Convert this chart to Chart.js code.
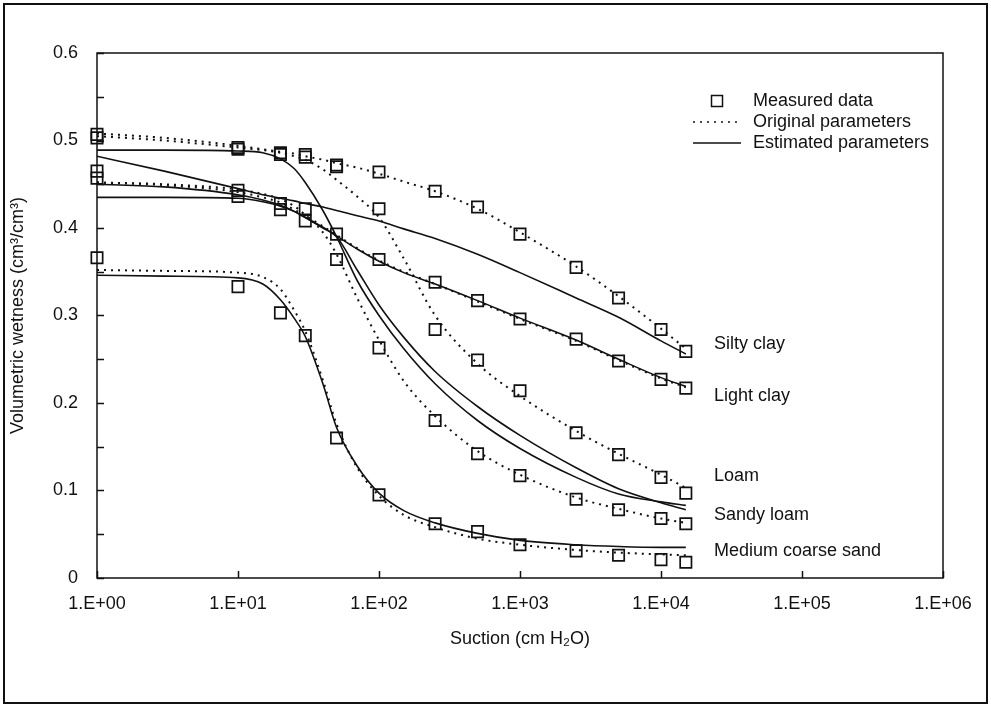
<!DOCTYPE html>
<html>
<head>
<meta charset="utf-8">
<script src="https://cdn.jsdelivr.net/npm/chart.js@4.4.1/dist/chart.umd.min.js"></script>
<style>
  html, body { margin: 0; padding: 0; background: #fff; }
  canvas { display: block; }
</style>
</head>
<body>
<canvas id="retention" width="991" height="706"></canvas>
<script>
// Suction steps of the measured points (cm H2O)
const suction = [1, 10, 20, 30, 50, 100, 250, 500, 1000, 2500, 5000, 10000, 15000];

// Measured volumetric wetness (cm3/cm3)
const siltyClayMeasured = [0.507, 0.492, 0.486, 0.484, 0.472, 0.464, 0.442, 0.424, 0.393, 0.355, 0.320, 0.284, 0.259];
const lightClayMeasured = [0.457, 0.436, 0.421, 0.408, 0.393, 0.364, 0.338, 0.317, 0.296, 0.273, 0.248, 0.227, 0.217];
const loamMeasured = [0.503, 0.490, 0.484, 0.481, 0.470, 0.422, 0.284, 0.249, 0.214, 0.166, 0.141, 0.115, 0.097];
const sandyLoamMeasured = [0.465, 0.443, 0.428, 0.422, 0.364, 0.263, 0.180, 0.142, 0.117, 0.090, 0.078, 0.068, 0.062];
const sandMeasured = [0.366, 0.333, 0.303, 0.277, 0.160, 0.095, 0.062, 0.053, 0.038, 0.031, 0.026, 0.021, 0.018];

// Suction points of the retention curves
const curveSuction = [1, 3, 10, 15, 20, 25, 30, 40, 50, 70, 100, 150, 250, 500, 1000, 2500, 5000, 10000, 15000];

// Curves with the original parameters (dotted)
const siltyClayOriginal = [0.508, 0.503, 0.494, 0.490, 0.487, 0.485, 0.482, 0.478, 0.474, 0.469, 0.462, 0.453, 0.442, 0.422, 0.395, 0.356, 0.322, 0.285, 0.262];
const lightClayOriginal = [0.452, 0.449, 0.441, 0.435, 0.429, 0.421, 0.414, 0.402, 0.392, 0.377, 0.363, 0.350, 0.336, 0.316, 0.296, 0.271, 0.249, 0.228, 0.218];
const loamOriginal = [0.505, 0.500, 0.492, 0.489, 0.486, 0.482, 0.478, 0.467, 0.455, 0.436, 0.412, 0.365, 0.300, 0.245, 0.208, 0.168, 0.142, 0.118, 0.103];
const sandyLoamOriginal = [0.452, 0.450, 0.444, 0.439, 0.433, 0.425, 0.415, 0.395, 0.370, 0.320, 0.272, 0.225, 0.185, 0.145, 0.118, 0.092, 0.079, 0.068, 0.063];
const sandOriginal = [0.352, 0.351, 0.349, 0.344, 0.330, 0.306, 0.282, 0.226, 0.176, 0.126, 0.094, 0.072, 0.058, 0.045, 0.038, 0.032, 0.029, 0.027, 0.026];

// Curves with the estimated parameters (solid)
const siltyClayEstimated = [0.482, 0.465, 0.445, 0.438, 0.434, 0.431, 0.428, 0.424, 0.420, 0.414, 0.408, 0.399, 0.388, 0.370, 0.349, 0.320, 0.298, 0.271, 0.256];
const lightClayEstimated = [0.450, 0.447, 0.438, 0.432, 0.426, 0.419, 0.412, 0.401, 0.391, 0.376, 0.362, 0.349, 0.336, 0.317, 0.297, 0.272, 0.250, 0.229, 0.219];
const loamEstimated = [0.489, 0.489, 0.488, 0.486, 0.479, 0.468, 0.452, 0.420, 0.390, 0.340, 0.300, 0.262, 0.222, 0.180, 0.148, 0.115, 0.096, 0.087, 0.083];
const sandyLoamEstimated = [0.435, 0.435, 0.434, 0.430, 0.425, 0.419, 0.412, 0.400, 0.390, 0.352, 0.312, 0.275, 0.236, 0.196, 0.163, 0.126, 0.102, 0.086, 0.078];
const sandEstimated = [0.346, 0.345, 0.343, 0.336, 0.318, 0.297, 0.276, 0.222, 0.172, 0.128, 0.097, 0.077, 0.063, 0.051, 0.043, 0.038, 0.036, 0.035, 0.035];

// Axis ticks
const xTickValues = [1, 10, 100, 1000, 10000, 100000, 1000000];
const xTickLabels = ['1.E+00', '1.E+01', '1.E+02', '1.E+03', '1.E+04', '1.E+05', '1.E+06'];
const yTickLabels = ['0', '0.1', '0.2', '0.3', '0.4', '0.5', '0.6'];

// Soil names written at the end of the curves
const soilNames = ['Silty clay', 'Light clay', 'Loam', 'Sandy loam', 'Medium coarse sand'];
const soilNameLevels = [0.267, 0.208, 0.117, 0.072, 0.031];

const INK = '#111';
const FONT = '"Liberation Sans", Arial, sans-serif';

const pairs = (xs, ys) => xs.map((v, i) => ({ x: v, y: ys[i] }));

function measured(label, values) {
  return {
    label: label,
    data: pairs(suction, values),
    showLine: false,
    pointStyle: 'rect',
    pointRadius: 8,
    pointHoverRadius: 8,
    pointBorderWidth: 1.7,
    pointBorderColor: INK,
    pointBackgroundColor: 'rgba(0,0,0,0)',
    clip: false
  };
}

function curve(label, values, dotted) {
  return {
    label: label,
    data: pairs(curveSuction, values),
    showLine: true,
    borderColor: INK,
    borderWidth: dotted ? 2 : 1.6,
    borderDash: dotted ? [2, 5] : [],
    pointRadius: 0,
    cubicInterpolationMode: 'monotone',
    fill: false
  };
}

// Plot frame, inward tick marks, soil names and the legend box
const decorations = {
  id: 'decorations',
  afterDraw(chart) {
    const { ctx, chartArea: a, scales: { x, y } } = chart;
    ctx.save();
    ctx.strokeStyle = INK;
    ctx.lineWidth = 1.5;
    ctx.strokeRect(a.left, a.top, a.right - a.left, a.bottom - a.top);

    ctx.beginPath();
    for (let k = 0; k <= 12; k++) {
      const py = Math.round(y.getPixelForValue(k * 0.05)) + 0.5;
      ctx.moveTo(a.left, py);
      ctx.lineTo(a.left + 7, py);
    }
    xTickValues.forEach(v => {
      const px = Math.round(x.getPixelForValue(v)) + 0.5;
      ctx.moveTo(px, a.bottom);
      ctx.lineTo(px, a.bottom - 7);
    });
    ctx.stroke();

    // outer figure border
    ctx.lineWidth = 2;
    ctx.strokeRect(4, 4, chart.width - 8, chart.height - 7);

    ctx.fillStyle = INK;
    ctx.font = '18px ' + FONT;
    ctx.textBaseline = 'middle';
    ctx.textAlign = 'left';
    soilNames.forEach((name, i) => {
      ctx.fillText(name, 714, y.getPixelForValue(soilNameLevels[i]));
    });

    // legend
    const lx = 693, tx = 753;
    ctx.lineWidth = 1.5;
    ctx.strokeRect(711.5, 95.5, 11, 11);
    ctx.fillText('Measured data', tx, 101);

    ctx.lineWidth = 1.6;
    ctx.setLineDash([2, 5]);
    ctx.beginPath();
    ctx.moveTo(lx, 122);
    ctx.lineTo(lx + 48, 122);
    ctx.stroke();
    ctx.fillText('Original parameters', tx, 122);

    ctx.setLineDash([]);
    ctx.beginPath();
    ctx.moveTo(lx, 143);
    ctx.lineTo(lx + 48, 143);
    ctx.stroke();
    ctx.fillText('Estimated parameters', tx, 143);
    ctx.restore();
  }
};

Chart.defaults.font.family = FONT;
Chart.defaults.font.size = 18;
Chart.defaults.color = INK;

new Chart(document.getElementById('retention'), {
  type: 'scatter',
  data: {
    datasets: [
      measured('Silty clay', siltyClayMeasured),
      measured('Light clay', lightClayMeasured),
      measured('Loam', loamMeasured),
      measured('Sandy loam', sandyLoamMeasured),
      measured('Medium coarse sand', sandMeasured),
      curve('Silty clay, original', siltyClayOriginal, true),
      curve('Light clay, original', lightClayOriginal, true),
      curve('Loam, original', loamOriginal, true),
      curve('Sandy loam, original', sandyLoamOriginal, true),
      curve('Medium coarse sand, original', sandOriginal, true),
      curve('Silty clay, estimated', siltyClayEstimated, false),
      curve('Light clay, estimated', lightClayEstimated, false),
      curve('Loam, estimated', loamEstimated, false),
      curve('Sandy loam, estimated', sandyLoamEstimated, false),
      curve('Medium coarse sand, estimated', sandEstimated, false)
    ]
  },
  options: {
    responsive: false,
    animation: false,
    devicePixelRatio: 1,
    layout: { padding: { top: 53, right: 48, bottom: 0, left: 0 } },
    plugins: { legend: { display: false }, tooltip: { enabled: false } },
    scales: {
      x: {
        type: 'logarithmic',
        min: 1,
        max: 1000000,
        afterBuildTicks: s => { s.ticks = xTickValues.map(v => ({ value: v })); },
        afterFit: s => { s.height = 128; },
        grid: { display: false, drawTicks: false },
        border: { display: false },
        ticks: {
          autoSkip: false,
          maxRotation: 0,
          padding: 15,
          callback: (v, i) => xTickLabels[i]
        },
        title: {
          display: true,
          text: 'Suction (cm H₂O)',
          padding: { top: 0, bottom: 56 }
        }
      },
      y: {
        min: 0,
        max: 0.6,
        afterFit: s => { s.width = 97; },
        grid: { display: false, drawTicks: false },
        border: { display: false },
        ticks: {
          stepSize: 0.1,
          padding: 19,
          callback: (v, i) => yTickLabels[i]
        },
        title: {
          display: true,
          text: 'Volumetric wetness (cm³/cm³)',
          padding: { top: 7, bottom: 0 }
        }
      }
    }
  },
  plugins: [decorations]
});
</script>
</body>
</html>
